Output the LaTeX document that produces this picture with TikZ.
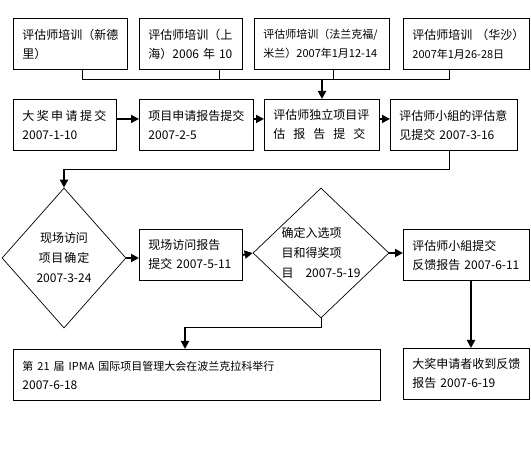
\documentclass[tikz,border=0pt]{standalone}
\usepackage{fontspec}
\setmainfont{Noto Sans CJK SC}
\usetikzlibrary{shapes.geometric,arrows.meta}
\newcommand\myfs[1]{\fontsize{#1}{19}\selectfont}
\begin{document}
\begin{tikzpicture}[x=1pt,y=-1pt,
  box/.style={draw, line width=0.9pt, anchor=north west, inner xsep=9pt, inner ysep=0pt, minimum height=51pt, align=left, font=\myfs{12}},
  dia/.style={draw, diamond, line width=0.7pt, inner sep=0pt, font=\fontsize{12}{20}\selectfont},
  arr/.style={line width=1.8pt, -{Triangle[length=8pt,width=8pt]}},
  thin/.style={line width=0.9pt}]
\fill[white] (0,0) rectangle (531,457);
\useasboundingbox (0,0) rectangle (531,457);
% top row
\node[box, text width=96pt] (t1) at (13,18) {评估师培训（新德\\里）};
\node[box, text width=85pt] (t2) at (139,18) {评估师培训（上\\海）2006 年 10};
\node[box, text width=117pt, font=\myfs{11}] (t3) at (254,18) {评估师培训（法兰克福/\\米兰）2007年1月12-14};
\node[box, text width=108pt] (t4) at (403,18) {\mbox{评估师培训\hspace{4pt}（华沙）}\\{\myfs{11}2007年1月26-28日}};
% second row
\node[box, text width=85pt] (a) at (13,99) {\hbox to 84pt{大\hfill 奖\hfill 申\hfill 请\hfill 提\hfill 交}\\2007-1-10};
\node[box, text width=96pt] (b) at (139,99) {项目申请报告提交\\2007-2-5};
\node[box, text width=97pt] (c) at (264,99) {评估师独立项目评\\\hbox to 92pt{估\hfill 报\hfill 告\hfill 提\hfill 交}};
\node[box, text width=109pt] (d) at (390,99) {评估师小組的评估意\\见提交 2007-3-16};
% third row
\node[dia, minimum width=124pt, minimum height=140pt, align=center] (d1) at (64,258) {现场访问\\\hbox to 51pt{项\hfill 目\hfill 确\hfill 定}\\2007-3-24};
\node[box, text width=85pt] (e) at (139,229) {现场访问报告\\提交 2007-5-11};
\node[dia, minimum width=136pt, minimum height=128pt, align=left] (d2) at (321,253) {确定入选项\\目和得奖项\\目\quad 2007-5-19};
\node[box, text width=108pt] (f) at (403,229) {评估师小組提交\\反馈报告 2007-6-11};
% bottom row
\node[box, text width=349pt] (g) at (13,349) {{\myfs{11}第 21 届 IPMA 国际项目管理大会在波兰克拉科举行}\\2007-6-18};
\node[box, text width=108pt] (h) at (403,348) {大奖申请者收到反馈\\报告 2007-6-19};
% connector coordinates
\coordinate (v1) at (82,79);
\coordinate (v2) at (219,79);
\coordinate (v3) at (333,79);
\coordinate (v4) at (449,79);
\coordinate (hub) at (322,79);
\coordinate (kD) at (449,169);
\coordinate (k1) at (64,169);
\coordinate (k2) at (185,327);
\coordinate (kF) at (471,300);
% connectors
\draw[thin] (t1.south -| v1) -- (v1) -- (v4) -- (t4.south -| v4);
\draw[thin] (t2.south -| v2) -- (v2);
\draw[thin] (t3.south -| v3) -- (v3);
\draw[arr] (hub) -- (hub |- c.north);
\draw[arr] ([yshift=6pt]a.east) -- ([yshift=6pt]b.west);
\draw[arr] ([yshift=6pt]b.east) -- ([yshift=6pt]c.west);
\draw[arr] ([yshift=6pt]c.east) -- ([yshift=6pt]d.west);
\draw[thin] (d.south -| kD) -- (kD) -- (k1);
\draw[arr] (k1) -- (d1.north);
\draw[arr] (d1.east) -- (d1.east -| e.west);
\draw[arr] (e.east) -- (d2.west);
\draw[arr] (d2.east) -- (d2.east -| f.west);
\draw[thin] (d2.south) |- (k2);
\draw[arr] (k2) -- (k2 |- g.north);
\draw[arr] (f.south -| kF) -- (h.north -| kF);
\end{tikzpicture}
\end{document}
